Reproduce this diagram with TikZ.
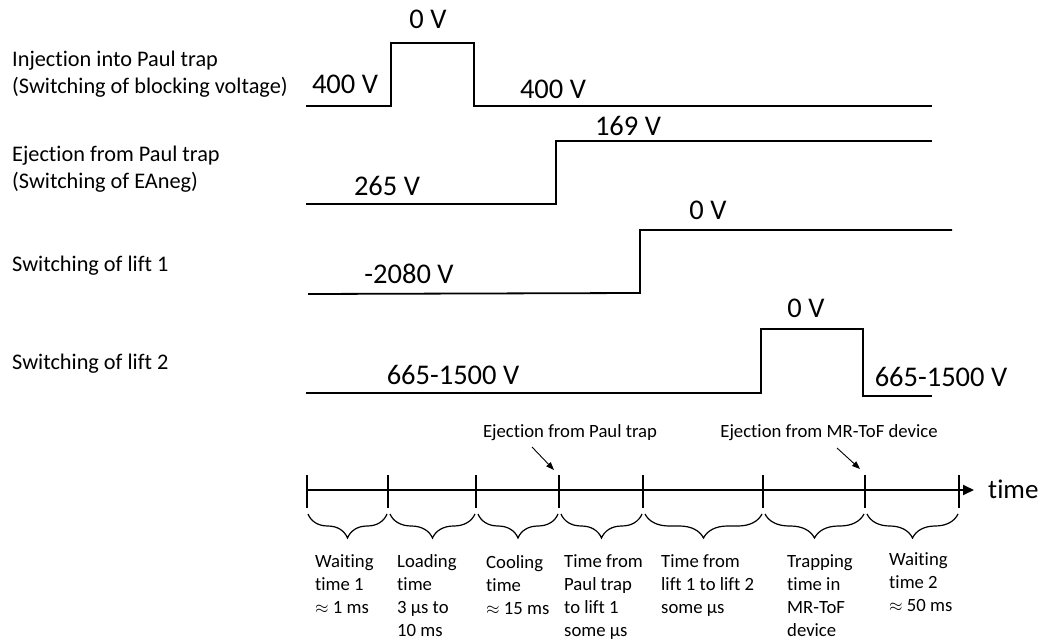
\documentclass[tikz,border=0pt]{standalone}
\usepackage{fontspec}
\setmainfont{Carlito}[RawFeature={-liga;-clig;-calt;-dlig}]
\usetikzlibrary{arrows.meta,decorations.pathreplacing,calc}
\begin{document}
\begin{tikzpicture}[x=1pt,y=-1pt,
  sig/.style={line width=1.8pt, line join=miter},
  volt/.style={font=\fontsize{28.5}{30}\selectfont, inner sep=0pt, anchor=base},
  side/.style={font=\fontsize{22.3}{27}\selectfont, inner sep=0pt, align=left, anchor=north west},
  sideone/.style={font=\fontsize{22.3}{27}\selectfont, inner sep=0pt, anchor=base west},
  bot/.style={font=\fontsize{18.7}{23}\selectfont, inner sep=0pt, align=left, anchor=north west},
  evt/.style={font=\fontsize{18.7}{23}\selectfont, inner sep=0pt, anchor=base},
  tick/.style={line width=1.8pt},
  axis/.style={line width=1.8pt, -{Triangle[length=11pt,width=10pt]}},
  pointer/.style={line width=0.9pt, -{Triangle[length=8pt,width=6pt]}},
  curly/.style={line width=1.2pt, decorate, decoration={brace, mirror, amplitude=24pt}}]
\useasboundingbox (0,0) rectangle (1045,639);

% left labels
\node[side] (l1) at (12,47.1) {\strut Injection into Paul trap\\(Switching of blocking voltage)};
\node[side] (l2) at (12,142.1) {\strut Ejection from Paul trap\\(Switching of EAneg)};
\node[sideone] (l3) at (12,272) {Switching of lift 1};
\node[sideone] (l4) at (12,370) {Switching of lift 2};

% signal traces
\draw[sig] (306,106) -- (391,106) -- (391,43) -- (474,43) -- (474,106) -- (932,106);
\draw[sig] (306,204) -- (556,204) -- (556,141) -- (932,141);
\draw[sig] (308,294) -- (640,293) -- (640,230) -- (952,230);
\draw[sig] (306,393) -- (761,393) -- (761,329) -- (863,329) -- (863,396) -- (932,396);

% voltage labels
\node[volt] (v1a) at (345,94) {400 V};
\node[volt] (v1b) at (428,29) {0 V};
\node[volt] (v1c) at (553,99) {400 V};
\node[volt] (v2a) at (387,196) {265 V};
\node[volt] (v2b) at (628,136) {169 V};
\node[volt] (v3a) at (409,284) {-2080 V};
\node[volt] (v3b) at (708,220) {0 V};
\node[volt] (v4a) at (453,384) {665-1500 V};
\node[volt] (v4b) at (806,317) {0 V};
\node[volt] (v4c) at (941,386) {665-1500 V};

% time axis
\coordinate (t0) at (307,490);
\coordinate (t1) at (388,490);
\coordinate (t2) at (476,490);
\coordinate (t3) at (559,490);
\coordinate (t4) at (643,490);
\coordinate (t5) at (763,490);
\coordinate (t6) at (865,490);
\coordinate (t7) at (959,490);
\coordinate (tend) at (974,490);
\draw[axis] (t0) -- (tend);
\node[font=\fontsize{27}{30}\selectfont, inner sep=0pt, anchor=base west] (time) at (988,498) {time};
\foreach \t in {t0,t1,t2,t3,t4,t5,t6,t7}
  \draw[tick] ($(\t)+(0,-15)$) -- ($(\t)+(0,18)$);

% braces
\draw[curly] ($(t0)+(1,24)$) -- ($(t1)+(-1,24)$);
\draw[curly] ($(t1)+(2,24)$) -- ($(t2)+(-1,24)$);
\draw[curly] ($(t2)+(2,24)$) -- ($(t3)+(-1,24)$);
\draw[curly] ($(t3)+(2,24)$) -- ($(t4)+(-1,24)$);
\draw[curly] ($(t4)+(2,24)$) -- ($(t5)+(-1,24)$);
\draw[curly] ($(t5)+(2,24)$) -- ($(t6)+(-1,24)$);
\draw[curly] ($(t6)+(2,24)$) -- ($(t7)+(-1,24)$);

% event labels with pointers
\node[evt] (ep) at (570,437) {Ejection from Paul trap};
\node[evt] (em) at (829,437) {Ejection from MR-ToF device};
\coordinate (epa) at (532,447);
\coordinate (epb) at (554,470);
\coordinate (ema) at (837,448);
\coordinate (emb) at (860,469);
\draw[pointer] (epa) -- (epb);
\draw[pointer] (ema) -- (emb);

% interval labels
\node[bot] (b1) at (315,551) {\strut Waiting\\time 1\\$\approx$ 1 ms};
\node[bot] (b2) at (397,551) {\strut Loading\\time\\3 µs to\\10 ms};
\node[bot] (b3) at (486,552) {\strut Cooling\\time\\$\approx$ 15 ms};
\node[bot] (b4) at (564,551) {\strut Time from\\Paul trap\\to lift 1\\some µs};
\node[bot] (b5) at (661,551) {\strut Time from\\lift 1 to lift 2\\some µs};
\node[bot] (b6) at (787,551) {\strut Trapping\\time in\\MR-ToF\\device};
\node[bot] (b7) at (889,549) {\strut Waiting\\time 2\\$\approx$ 50 ms};
\end{tikzpicture}
\end{document}
